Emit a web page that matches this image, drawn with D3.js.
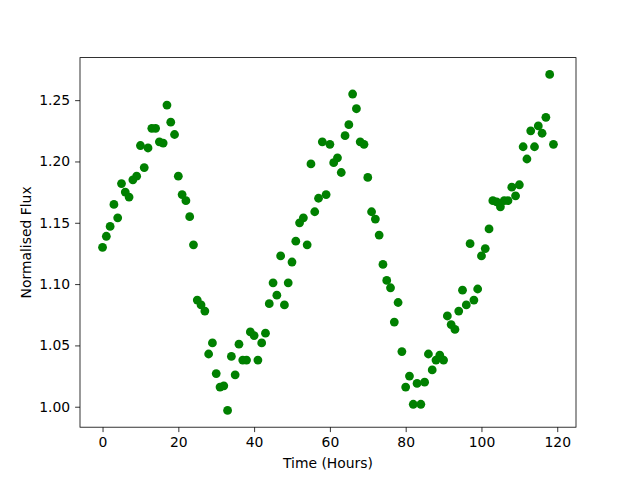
<!DOCTYPE html>
<html>
<head>
<meta charset="utf-8">
<script src="https://cdn.jsdelivr.net/npm/d3@7"></script>
<style>
  body { margin: 0; background: #fff; }
  text { font-family: "DejaVu Sans", sans-serif; }
</style>
</head>
<body>
<svg id="chart" width="640" height="480"></svg>
<script>
// normalised flux, one reading per hour (t = 0..119)
const flux = [
  1.130, 1.139, 1.147, 1.165, 1.154, 1.182, 1.175, 1.171, 1.185, 1.188,
  1.213, 1.195, 1.211, 1.227, 1.227, 1.216, 1.215, 1.246, 1.232, 1.222,
  1.188, 1.173, 1.168, 1.155, 1.132, 1.087, 1.083, 1.078, 1.043, 1.052,
  1.027, 1.016, 1.017, 0.997, 1.041, 1.026, 1.051, 1.038, 1.038, 1.061,
  1.058, 1.038, 1.052, 1.060, 1.084, 1.101, 1.091, 1.123, 1.083, 1.101,
  1.118, 1.135, 1.150, 1.154, 1.132, 1.198, 1.159, 1.170, 1.216, 1.173,
  1.214, 1.199, 1.203, 1.191, 1.221, 1.230, 1.255, 1.243, 1.216, 1.214,
  1.187, 1.159, 1.153, 1.140, 1.116, 1.103, 1.097, 1.069, 1.085, 1.045,
  1.016, 1.025, 1.002, 1.019, 1.002, 1.020, 1.043, 1.030, 1.038, 1.042,
  1.038, 1.074, 1.067, 1.063, 1.078, 1.095, 1.083, 1.133, 1.087, 1.096,
  1.123, 1.129, 1.145, 1.168, 1.167, 1.163, 1.168, 1.168, 1.179, 1.172,
  1.181, 1.212, 1.202, 1.225, 1.212, 1.229, 1.223, 1.236, 1.271, 1.214
]
const hours = flux.map((v, i) => i)

const xTicks = [0, 20, 40, 60, 80, 100, 120]
const yTicks = [1.00, 1.05, 1.10, 1.15, 1.20, 1.25]

const svg = d3.select('#chart')
const margin = { left: 80, right: 64, top: 57.6, bottom: 52.8 }
const width = 640 - margin.left - margin.right
const height = 480 - margin.top - margin.bottom

const points = hours.map((t, i) => ({ t, f: flux[i] }))

// matplotlib-style 5% padding on the data extent
function padded (ext) {
  const pad = (ext[1] - ext[0]) * 0.05
  return [ext[0] - pad, ext[1] + pad]
}

const x = d3.scaleLinear()
  .domain(padded(d3.extent(hours)))
  .range([0, width])

const y = d3.scaleLinear()
  .domain(padded(d3.extent(flux)))
  .range([height, 0])

const g = svg.append('g')
  .attr('transform', `translate(${margin.left},${margin.top})`)

g.selectAll('circle')
  .data(points)
  .enter().append('circle')
    .attr('cx', d => x(d.t))
    .attr('cy', d => y(d.f))
    .attr('r', 4.4)
    .style('fill', '#008000')

const xAxis = g.append('g')
  .attr('transform', `translate(0,${height})`)
  .call(d3.axisBottom(x).tickValues(xTicks).tickFormat(d3.format('d')).tickSize(4.9).tickPadding(4.9))

const yAxis = g.append('g')
  .call(d3.axisLeft(y).tickValues(yTicks).tickFormat(d3.format('.2f')).tickSize(4.9).tickPadding(4.9))

for (const ax of [xAxis, yAxis]) {
  ax.select('.domain').remove()
  ax.selectAll('.tick line').attr('stroke', '#000').attr('stroke-width', 0.8)
  ax.selectAll('.tick text')
    .attr('fill', '#000')
    .style('font-family', '"DejaVu Sans", sans-serif')
    .style('font-size', '13.9px')
}

// frame
g.append('rect')
  .attr('width', width)
  .attr('height', height)
  .attr('fill', 'none')
  .attr('stroke', '#000')
  .attr('stroke-width', 0.8)

svg.append('text')
  .attr('x', margin.left + width / 2)
  .attr('y', 468)
  .attr('text-anchor', 'middle')
  .style('font-size', '13.9px')
  .text('Time (Hours)')

svg.append('text')
  .attr('transform', `translate(31,${margin.top + height / 2}) rotate(-90)`)
  .attr('text-anchor', 'middle')
  .style('font-size', '13.9px')
  .text('Normalised Flux')
</script>
</body>
</html>
